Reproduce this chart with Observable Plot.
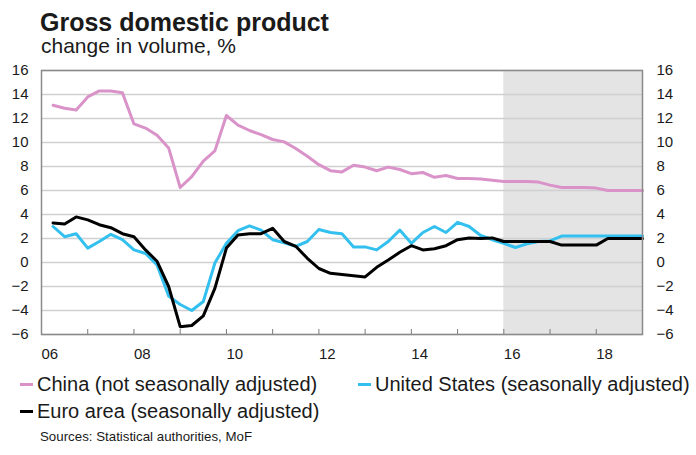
<!DOCTYPE html>
<html><head><meta charset="utf-8">
<script src="https://cdn.jsdelivr.net/npm/d3@7"></script>
<script src="https://cdn.jsdelivr.net/npm/@observablehq/plot@0.6"></script>
<style>
body{margin:0;background:#fff;font-family:"Liberation Sans",Arial,sans-serif;color:#1a1a1a;}
#wrap{position:relative;width:696px;height:455px;overflow:hidden;background:#fff;}
.abs{position:absolute;white-space:nowrap;line-height:1;}
.sw{display:inline-block;width:13px;height:3px;vertical-align:middle;margin-right:4px;position:relative;top:-1px;}
#chart{position:absolute;left:0;top:60px;}
</style></head><body>
<div id="wrap">
  <div class="abs" id="title" style="left:40px;top:10px;font-size:25px;font-weight:bold;">Gross domestic product</div>
  <div class="abs" id="subtitle" style="left:41px;top:35px;font-size:21px;">change in volume, %</div>
  <div id="chart"></div>
  <div class="abs" id="leg1" style="left:20px;top:374px;font-size:20px;"></div>
  <div class="abs" id="leg2" style="left:358px;top:374px;font-size:20px;"></div>
  <div class="abs" id="leg3" style="left:20px;top:401px;font-size:20px;"></div>
  <div class="abs" id="source" style="left:40px;top:430px;font-size:13.3px;">Sources: Statistical authorities, MoF</div>
</div>
<script>
// Quarterly observations, first one 2006 Q2, last one 2019 Q1
const firstQuarter = 2006.25;
const china = [13.1,12.85,12.7,13.8,14.3,14.3,14.15,11.55,11.2,10.6,9.55,6.25,7.15,8.45,9.3,12.25,11.45,11.0,10.65,10.25,10.05,9.5,8.85,8.15,7.65,7.55,8.1,7.95,7.65,7.95,7.75,7.4,7.5,7.1,7.25,7.0,7.0,6.95,6.85,6.75,6.75,6.75,6.7,6.45,6.25,6.25,6.25,6.2,6.0,6.0,6.0,6.0];
const unitedStates = [3.0,2.15,2.4,1.2,1.75,2.35,1.9,1.05,0.75,-0.2,-2.8,-3.5,-4.0,-3.25,-0.05,1.6,2.65,3.05,2.7,1.9,1.65,1.35,1.75,2.75,2.5,2.4,1.3,1.3,1.05,1.75,2.7,1.6,2.5,3.0,2.5,3.35,3.0,2.25,1.9,1.6,1.25,1.55,1.75,1.8,2.2,2.2,2.2,2.2,2.2,2.2,2.2,2.2];
const euroArea = [3.3,3.2,3.8,3.55,3.15,2.9,2.4,2.15,1.05,0.1,-2.0,-5.35,-5.25,-4.45,-2.15,1.2,2.3,2.4,2.4,2.85,1.75,1.35,0.35,-0.5,-0.9,-1.0,-1.1,-1.2,-0.4,0.2,0.85,1.4,1.05,1.15,1.4,1.9,2.05,2.0,2.05,1.75,1.75,1.75,1.75,1.75,1.45,1.45,1.45,1.45,2.0,2.0,2.0,2.0];
const forecast = [{start: 2016, end: 2019}];
const yTicks = [-6,-4,-2,0,2,4,6,8,10,12,14,16];
const yearTicks = [2006,2007,2008,2009,2010,2011,2012,2013,2014,2015,2016,2017,2018];
const yearLabels = [2006,2008,2010,2012,2014,2016,2018];
const seriesNames = ["China (not seasonally adjusted)","United States (seasonally adjusted)","Euro area (seasonally adjusted)"];
const colors = ["#da93c9","#33c0ef","#000000"];

const toRows = (vals) => vals.map((v, i) => ({t: firstQuarter + i * 0.25, v}));

const svg = Plot.plot({
  width: 696, height: 304,
  marginLeft: 41, marginRight: 54, marginTop: 10, marginBottom: 30,
  style: {fontFamily: "Liberation Sans, Arial, sans-serif", fontSize: "15px", color: "#1a1a1a", background: "white", overflow: "visible"},
  x: {domain: [2006, 2019]},
  y: {domain: [-6, 16]},
  marks: [
    Plot.rect(forecast, {x1: "start", x2: "end", fill: "#e4e4e4"}),
    Plot.gridY(yTicks, {stroke: "#d0d0d0", strokeOpacity: 1, strokeWidth: 1.5}),
    Plot.axisY(yTicks, {anchor: "left", tickSize: 0, tickPadding: 13, label: null, fontSize: 15}),
    Plot.axisY(yTicks, {anchor: "right", tickSize: 0, tickPadding: 14, label: null, fontSize: 15}),
    Plot.axisX(yearTicks, {anchor: "bottom", tickSize: -5, tickFormat: () => "", label: null, stroke: "#7a7a7a"}),
    Plot.axisX(yearLabels, {anchor: "bottom", tickSize: 0, tickPadding: 14, tickFormat: d => String(d).slice(2), textAnchor: "start", label: null, fontSize: 15}),
    Plot.line(toRows(china), {x: "t", y: "v", stroke: colors[0], strokeWidth: 3}),
    Plot.line(toRows(unitedStates), {x: "t", y: "v", stroke: colors[1], strokeWidth: 3}),
    Plot.line(toRows(euroArea), {x: "t", y: "v", stroke: colors[2], strokeWidth: 3}),
    Plot.frame({stroke: "#8a8a8a", strokeWidth: 1.5})
  ]
});
document.getElementById("chart").appendChild(svg);

["leg1","leg2","leg3"].forEach((id, i) => {
  const el = document.getElementById(id);
  const sw = document.createElement("span");
  sw.className = "sw"; sw.style.background = colors[i];
  el.appendChild(sw);
  el.appendChild(document.createTextNode(seriesNames[i]));
});
</script>
</body></html>
